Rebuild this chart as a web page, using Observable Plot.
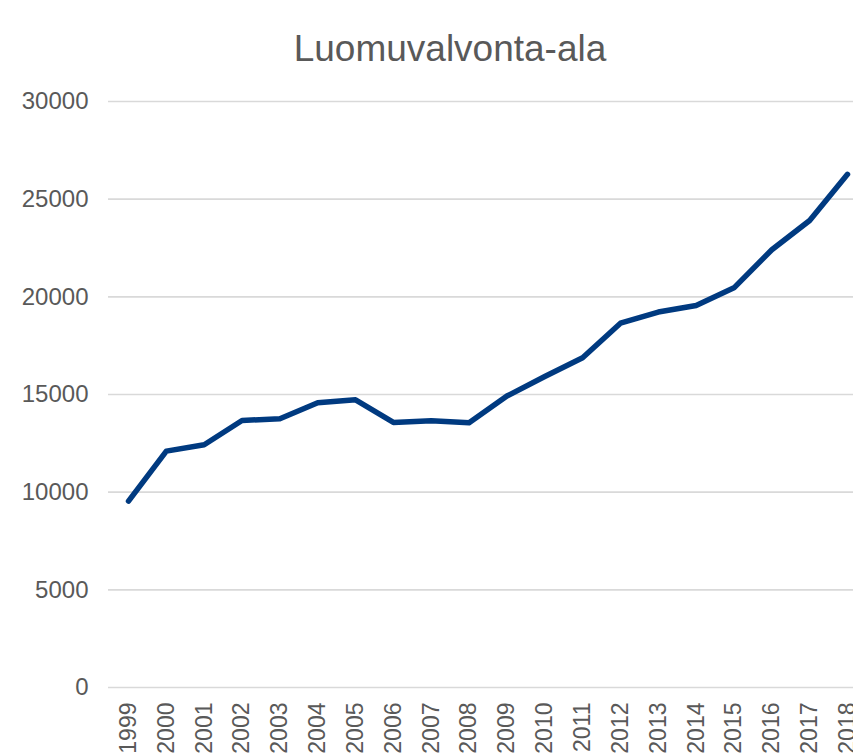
<!DOCTYPE html>
<html>
<head>
<meta charset="utf-8">
<script src="https://cdn.jsdelivr.net/npm/d3@7"></script>
<script src="https://cdn.jsdelivr.net/npm/@observablehq/plot@0.6"></script>
<style>
  html, body { margin: 0; padding: 0; background: #fff; overflow: hidden; width: 853px; height: 756px; }
  #title { box-sizing: border-box; height: 80px; padding-top: 30px; padding-left: 47px; width: 853px;
    text-align: center; font-family: "Liberation Sans", Arial, sans-serif; font-size: 37px; line-height: 1; color: #595959; }
  #chart svg { overflow: hidden; }
</style>
</head>
<body>
<div id="title">Luomuvalvonta-ala</div>
<div id="chart"></div>
<script>
const years = [1999, 2000, 2001, 2002, 2003, 2004, 2005, 2006, 2007, 2008, 2009, 2010, 2011, 2012, 2013, 2014, 2015, 2016, 2017, 2018];
const values = [9540, 12100, 12430, 13670, 13760, 14580, 14730, 13570, 13650, 13550, 14920, 15920, 16880, 18650, 19220, 19560, 20460, 22410, 23910, 26270];
const yTicks = [0, 5000, 10000, 15000, 20000, 25000, 30000];

const data = years.map((y, i) => ({year: y, value: values[i]}));

const chart = Plot.plot({
  width: 853,
  height: 676,
  marginLeft: 108,
  marginRight: 0,
  marginTop: 21,
  marginBottom: 69,
  style: {fontFamily: "Liberation Sans, Arial, sans-serif", color: "#595959", background: "#fff"},
  x: {type: "linear", domain: [1999, 2018], range: [128, 847], label: null},
  y: {domain: [0, 30000], label: null},
  marks: [
    Plot.ruleY(yTicks, {stroke: "#d9d9d9", strokeWidth: 1.6}),
    Plot.axisY({ticks: yTicks, tickSize: 0, tickPadding: 20, tickFormat: d => String(d), fontSize: 24, label: null}),
    Plot.axisX({ticks: years, tickSize: 0, tickPadding: 15, tickRotate: -90, tickFormat: d => String(d), fontSize: 23, label: null}),
    Plot.line(data, {x: "year", y: "value", stroke: "#003a80", strokeWidth: 5.5, strokeLinecap: "round", strokeLinejoin: "round"})
  ]
});
document.getElementById("chart").appendChild(chart);
</script>
</body>
</html>
